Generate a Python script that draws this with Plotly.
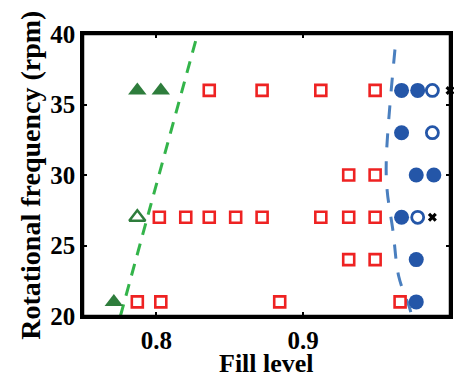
import plotly.graph_objects as go

# Red open squares
sq_x = [0.787, 0.803, 0.884, 0.966,
        0.802, 0.820, 0.836, 0.854, 0.872, 0.912, 0.931, 0.949,
        0.931, 0.949,
        0.931, 0.949,
        0.836, 0.872, 0.912, 0.949]
sq_y = [21, 21, 21, 21,
        27, 27, 27, 27, 27, 27, 27, 27,
        24, 24,
        30, 30,
        36, 36, 36, 36]

# Green triangles
tri_fill_x = [0.787, 0.803, 0.771]
tri_fill_y = [36, 36, 21]
tri_open_x = [0.787]
tri_open_y = [27]

# Blue circles
circ_fill_x = [0.977, 0.977, 0.967, 0.977, 0.989, 0.967, 0.967, 0.978]
circ_fill_y = [21, 24, 27, 30, 30, 33, 36, 36]
circ_open_x = [0.978, 0.988, 0.988]
circ_open_y = [27, 33, 36]

# Black crosses
cross_x = [0.988, 1.0]
cross_y = [27, 36]

# Boundary lines
green_line_x = [0.7755, 0.8275]
green_line_y = [20, 39.8]
blue_line_x = [0.9625, 0.9566, 0.9572, 0.9612, 0.9651, 0.9724, 0.974]
blue_line_y = [38.9, 31.1, 28.9, 26.0, 22.8, 20.6, 20.0]

x_ticks = [0.8, 0.9, 1.0]
x_tick_text = ["0.8", "0.9", "1"]
y_ticks = [20, 25, 30, 35, 40]

FONT = "Liberation Serif"

fig = go.Figure()
fig.add_trace(go.Scatter(x=green_line_x, y=green_line_y, mode="lines",
                         line=dict(color="#33b44a", width=3, dash="12px,9px"),
                         cliponaxis=False, showlegend=False))
fig.add_trace(go.Scatter(x=blue_line_x, y=blue_line_y, mode="lines",
                         line=dict(color="#4a7fbf", width=3, dash="14px,14px", shape="spline"),
                         cliponaxis=False, showlegend=False))
fig.add_trace(go.Scatter(x=sq_x, y=sq_y, mode="markers",
                         marker=dict(symbol="square-open", size=11, color="#ee2222",
                                     line=dict(width=2.6, color="#ee2222")),
                         cliponaxis=False, showlegend=False))
fig.add_trace(go.Scatter(x=tri_fill_x, y=tri_fill_y, mode="markers",
                         marker=dict(symbol="triangle-up", size=16, color="#2e7d3c",
                                     line=dict(width=0)),
                         cliponaxis=False, showlegend=False))
fig.add_trace(go.Scatter(x=tri_open_x, y=tri_open_y, mode="markers",
                         marker=dict(symbol="triangle-up-open", size=14, color="#2e7d3c",
                                     line=dict(width=2.5, color="#2e7d3c")),
                         cliponaxis=False, showlegend=False))
fig.add_trace(go.Scatter(x=circ_fill_x, y=circ_fill_y, mode="markers",
                         marker=dict(symbol="circle", size=15, color="#2456a8",
                                     line=dict(width=0)),
                         cliponaxis=False, showlegend=False))
fig.add_trace(go.Scatter(x=circ_open_x, y=circ_open_y, mode="markers",
                         marker=dict(symbol="circle-open", size=12, color="#2456a8",
                                     line=dict(width=2.8, color="#2456a8")),
                         cliponaxis=False, showlegend=False))
fig.add_trace(go.Scatter(x=cross_x, y=cross_y, mode="markers",
                         marker=dict(symbol="x", size=8, color="black",
                                     line=dict(width=0)),
                         cliponaxis=False, showlegend=False))

axis_common = dict(showline=True, linecolor="black", linewidth=2.5, mirror="ticks",
                   ticks="inside", ticklen=4, tickwidth=2, tickcolor="black",
                   showgrid=False, zeroline=False, automargin=False,
                   tickfont=dict(family=FONT, size=25, color="black", weight="bold"))

fig.update_xaxes(range=[0.75, 1.0], tickvals=x_ticks, ticktext=x_tick_text, **axis_common)
fig.update_yaxes(range=[20, 40], tickvals=y_ticks, **axis_common)

# plot frame
fig.add_shape(type="rect", xref="paper", yref="paper", x0=0, y0=0, x1=1, y1=1,
              line=dict(color="black", width=2.5), layer="above")

# axis titles as annotations for exact placement
fig.add_annotation(text="Fill level", xref="paper", yref="paper", x=0.5, y=-0.168,
                   xanchor="center", yanchor="middle", showarrow=False,
                   font=dict(family=FONT, size=26, color="black", weight="bold"))
fig.add_annotation(text="Rotational frequency (rpm)", xref="paper", yref="paper",
                   x=-0.145, y=0.5, xanchor="center", yanchor="middle", textangle=-90,
                   showarrow=False,
                   font=dict(family=FONT, size=28, color="black", weight="bold"))

# page body adds an 8px offset and the visible area ends before the window edge
fig.update_layout(width=446, height=371,
                  margin=dict(l=75, r=4, t=26, b=63),
                  plot_bgcolor="white", paper_bgcolor="white")

fig.write_html("out.html")
